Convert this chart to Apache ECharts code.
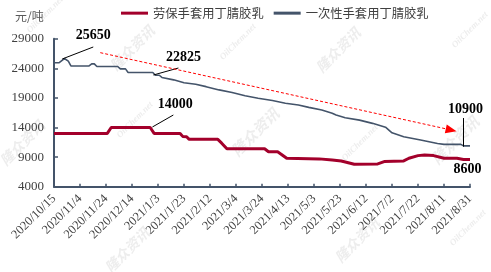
<!DOCTYPE html>
<html><head><meta charset="utf-8">
<script src="https://cdn.jsdelivr.net/npm/echarts@6/dist/echarts.min.js"></script>
<style>html,body{margin:0;padding:0;background:#fff}#c{width:491px;height:272px}</style>
</head><body><div id="c"></div>
<script>
// ---- data ----
const baseDate = '2020-10-15';
const xMaxDays = 320;
const xTickDays = 20;
const yTicks = [4000, 9000, 14000, 19000, 24000, 29000];
const seriesNames = ['劳保手套用丁腈胶乳', '一次性手套用丁腈胶乳'];
const unitLabel = '元/吨';

const redDates = ['2020-10-15','2020-11-25','2020-11-28','2020-12-28','2020-12-31','2021-01-20','2021-01-22','2021-01-25','2021-01-27','2021-02-18','2021-02-21','2021-02-25','2021-03-26','2021-03-29','2021-04-05','2021-04-08','2021-04-12','2021-05-07','2021-05-17','2021-05-24','2021-06-03','2021-06-21','2021-06-26','2021-07-11','2021-07-15','2021-07-22','2021-07-27','2021-08-03','2021-08-11','2021-08-21','2021-08-26','2021-08-31'];
const redValues = [13000,13000,14000,14000,13000,13000,12500,12450,12000,12000,11350,10400,10400,9900,9900,9450,8800,8700,8500,8350,7800,7850,8250,8350,8800,9250,9350,9250,8800,8800,8600,8600];

const blueDates = ['2020-10-15','2020-10-19','2020-10-23','2020-10-26','2020-10-28','2020-11-11','2020-11-13','2020-11-15','2020-11-17','2020-12-03','2020-12-05','2020-12-09','2020-12-11','2020-12-30','2021-01-01','2021-01-04','2021-01-06','2021-01-15','2021-01-23','2021-02-01','2021-02-09','2021-02-19','2021-03-01','2021-03-11','2021-03-21','2021-04-01','2021-04-11','2021-04-21','2021-04-29','2021-05-09','2021-05-17','2021-05-20','2021-05-27','2021-06-07','2021-06-17','2021-06-27','2021-07-02','2021-07-11','2021-07-24','2021-08-06','2021-08-11','2021-08-24','2021-08-26','2021-08-31'];
const blueValues = [24950,24950,25650,25200,24400,24400,24750,24750,24300,24300,23900,23900,23300,23300,22825,22825,22450,22050,21550,21300,20900,20350,19900,19350,18950,18550,18100,17800,17400,16950,16400,16100,15650,15250,14700,14050,13100,12450,11900,11300,11150,11150,10900,10900];

// annotated values
const annoValues = [25650, 22825, 14000, 10900, 8600];

// ---- helpers ----
const DAY = 86400000;
const base = Date.parse(baseDate);
const dayOf = s => Math.round((Date.parse(s) - base) / DAY);
const fmtDay = v => { const d = new Date(base + v * DAY); return d.getUTCFullYear() + '/' + (d.getUTCMonth() + 1) + '/' + d.getUTCDate(); };
const redData = redDates.map((d, i) => [dayOf(d), redValues[i]]);
const blueData = blueDates.map((d, i) => [dayOf(d), blueValues[i]]);

// leader line anchors (data space) for the annotations
const leaders = [
  [[6.3, 25570], [30.2, 27600], [0, -12]],
  [[76.5, 22870], [95.7, 24050], [5, -11]],
  [[75.7, 14085], [91.8, 16110], [2, -11]],
  [[315, 10760], [315, 15600], [2, -9]]
];
const endLabel8600 = [[318, 8600], [0, 10]];
const trendArrow = [[35.6, 26640], [305.5, 13580]];

const serifFont = '"Liberation Serif", "DejaVu Serif", serif';
const cjkFont = '"Noto Sans CJK SC", sans-serif';
const axisColor = '#44546A';

const chart = echarts.init(document.getElementById('c'), null, {renderer: 'canvas'});

const leaderLines = leaders.map(l => [
  {coord: l[0], symbol: 'none', lineStyle: {color: '#000', width: 1, type: 'solid'}},
  {coord: l[1], symbol: 'none'}
]);
leaderLines.push([
  {coord: trendArrow[0], symbol: 'none', lineStyle: {color: '#FF0000', width: 1, type: [3, 2]}},
  {coord: trendArrow[1], symbol: 'triangle', symbolSize: [9, 11]}
]);

const labelPoints = leaders.map((l, i) => ({
  coord: l[1], value: annoValues[i],
  label: {offset: l[2]}
}));
labelPoints.push({coord: endLabel8600[0], value: annoValues[4], label: {offset: endLabel8600[1]}});

const wm = [
  ['隆众资讯', 22, 143, 14], ['隆众资讯', 132, 48, 14], ['隆众资讯', 338, 50, 14], ['隆众资讯', 255, 132, 15],
  ['隆众资讯', 455, 140, 15], ['隆众资讯', 127, 250, 14], ['隆众资讯', 357, 240, 14],
  ['OilChem.net', 45, 15, 9], ['OilChem.net', 238, 42, 9], ['OilChem.net', 470, 30, 9],
  ['OilChem.net', 135, 120, 9], ['OilChem.net', 360, 143, 9], ['OilChem.net', 468, 228, 9]
];

chart.setOption({
  animation: false,
  backgroundColor: '#fff',
  title: {
    text: unitLabel, left: 10, top: 5,
    textStyle: {fontSize: 12, fontWeight: 'normal', color: '#595959', fontFamily: cjkFont}
  },
  legend: {
    top: 7, left: 121, padding: 0, itemWidth: 27, itemHeight: 3, itemGap: 10, icon: 'rect',
    textStyle: {fontSize: 12.3, color: '#404040', fontFamily: cjkFont, padding: [0, 0, 0, 0]},
    data: seriesNames
  },
  grid: {left: 54, right: 21, top: 38.7, bottom: 85.3, containLabel: false, outerBoundsMode: 'none'},
  xAxis: {
    type: 'value', min: 0, max: xMaxDays, interval: xTickDays,
    axisLine: {show: true, lineStyle: {color: axisColor, width: 2}},
    axisTick: {show: true, inside: true, length: 3, lineStyle: {color: axisColor, width: 1.5}},
    splitLine: {show: false},
    axisLabel: {rotate: 45, margin: 10, fontSize: 12.5, color: '#404040', fontFamily: serifFont, formatter: fmtDay}
  },
  yAxis: {
    type: 'value', min: yTicks[0], max: yTicks[yTicks.length - 1], interval: yTicks[1] - yTicks[0],
    axisLine: {show: true, lineStyle: {color: axisColor, width: 2}},
    axisTick: {show: true, inside: true, length: 4, lineStyle: {color: axisColor, width: 1.5}},
    splitLine: {show: false},
    axisLabel: {margin: 10, fontSize: 13, color: '#404040', fontFamily: serifFont, formatter: v => String(v)}
  },
  graphic: wm.map(w => ({
    type: 'text', x: w[1], y: w[2], rotation: Math.PI / 4, z: -1, silent: true,
    style: {text: w[0], fontSize: w[3], fontWeight: 'bold', fontStyle: 'italic', fill: 'rgba(190,190,190,0.28)', align: 'center', verticalAlign: 'middle',
      fontFamily: w[0] === 'OilChem.net' ? serifFont : cjkFont}
  })),
  series: [
    {
      name: seriesNames[0], type: 'line', data: redData, symbol: 'none', z: 3,
      lineStyle: {color: '#A3002B', width: 3}, itemStyle: {color: '#A3002B'}
    },
    {
      name: seriesNames[1], type: 'line', data: blueData, symbol: 'none', z: 4,
      lineStyle: {color: '#44546A', width: 1.6}, itemStyle: {color: '#44546A'},
      markLine: {silent: true, animation: false, label: {show: false}, emphasis: {disabled: true}, data: leaderLines},
      markPoint: {
        silent: true, animation: false, symbol: 'circle', symbolSize: 0,
        label: {show: true, position: 'inside', formatter: p => String(p.value), fontSize: 14, fontWeight: 'bold', color: '#000', fontFamily: serifFont},
        data: labelPoints
      }
    }
  ]
});
</script></body></html>
